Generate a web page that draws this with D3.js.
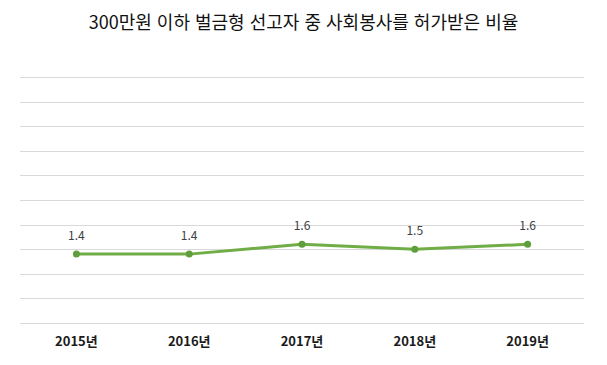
<!DOCTYPE html>
<html lang="ko">
<head>
  <meta charset="UTF-8">
  <title>사회봉사 허가 비율</title>
  <script src="https://d3js.org/d3.v7.min.js"></script>
  <style>
    body {
      margin: 0;
      background: #fff;
      font-family: "Noto Sans CJK KR", "Noto Sans", sans-serif;
    }
  </style>
</head>
<body>
  <svg width="607" height="365"></svg>
  <script>
    // Data
    const years = ["2015년", "2016년", "2017년", "2018년", "2019년"];
    const rates = [1.4, 1.4, 1.6, 1.5, 1.6];
    const yTicks = [0, 0.5, 1, 1.5, 2, 2.5, 3, 3.5, 4, 4.5, 5];

    const width = 607,
          height = 365,
          margin = {top: 77, right: 23, bottom: 42, left: 20};

    const svg = d3.select("svg")
                  .attr("width", width)
                  .attr("height", height);

    // Title
    svg.append("text")
       .attr("x", width / 2)
       .attr("y", 29)
       .attr("text-anchor", "middle")
       .style("font-size", "18px")
       .style("fill", "#111")
       .text("300만원 이하 벌금형 선고자 중 사회봉사를 허가받은 비율");

    const x = d3.scaleBand()
                .domain(years)
                .range([margin.left, width - margin.right]);

    const y = d3.scaleLinear()
                .domain([0, 5])
                .range([height - margin.bottom, margin.top]);

    // Horizontal gridlines
    svg.append("g")
       .selectAll("line")
       .data(yTicks)
       .enter()
       .append("line")
       .attr("x1", margin.left)
       .attr("x2", width - margin.right)
       .attr("y1", d => Math.round(y(d)) + 0.5)
       .attr("y2", d => Math.round(y(d)) + 0.5)
       .attr("stroke", "#d9d9d9")
       .attr("stroke-width", 1);

    // X axis labels
    const xAxis = svg.append("g")
       .attr("transform", "translate(0," + (height - margin.bottom) + ")")
       .call(d3.axisBottom(x).tickSize(0).tickPadding(14));
    xAxis.select(".domain").remove();
    xAxis.selectAll("text")
         .style("font-family", "'Noto Sans CJK KR', sans-serif")
         .style("font-size", "13px")
         .style("font-weight", "bold")
         .style("fill", "#1a1a1a");

    const cx = d => x(d) + x.bandwidth() / 2;

    // Line
    const line = d3.line()
                   .x((d, i) => cx(years[i]))
                   .y(d => y(d));

    svg.append("path")
       .datum(rates)
       .attr("d", line)
       .attr("fill", "none")
       .attr("stroke", "#70ad47")
       .attr("stroke-width", 3)
       .attr("stroke-linejoin", "round");

    // Markers
    svg.selectAll(".dot")
       .data(rates)
       .enter()
       .append("circle")
       .attr("cx", (d, i) => cx(years[i]))
       .attr("cy", d => y(d))
       .attr("r", 3.5)
       .attr("fill", "#5f9e3d");

    // Value labels
    svg.selectAll(".label")
       .data(rates)
       .enter()
       .append("text")
       .attr("x", (d, i) => cx(years[i]))
       .attr("y", d => y(d) - 14)
       .attr("text-anchor", "middle")
       .style("font-size", "12px")
       .style("fill", "#404040")
       .text(d => d.toFixed(1));
  </script>
</body>
</html>
